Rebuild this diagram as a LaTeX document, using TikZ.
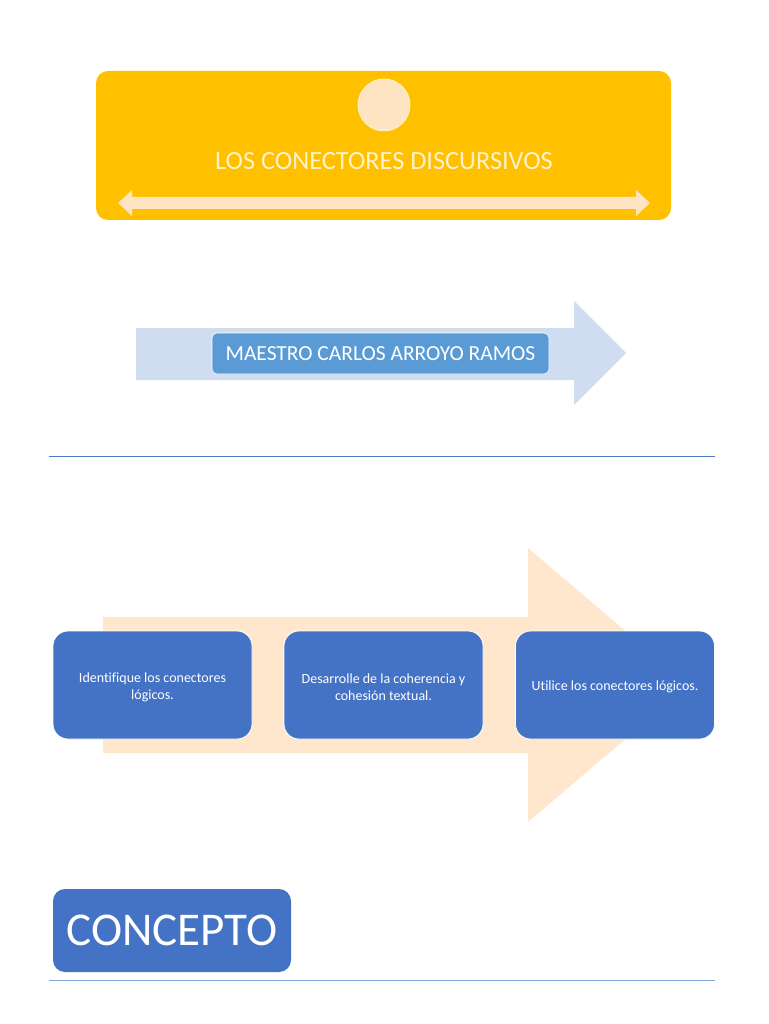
\documentclass[tikz,border=0pt]{standalone}
\usepackage{fontspec}
\setmainfont{Carlito}[Ligatures={NoCommon}]
\begin{document}
\begin{tikzpicture}[x=1pt,y=-1pt,
  topbox/.style={fill=gold, draw=none, rounded corners=12pt, minimum width=575pt, minimum height=149pt},
  bluebox/.style={fill=boxblue, draw=white, line width=0.8pt, rounded corners=15pt, minimum width=199pt, minimum height=108pt, text=white, align=center, font=\fontsize{14}{17}\selectfont, inner sep=4pt},
  namebox/.style={fill=nameblue, draw=white, line width=0.6pt, rounded corners=5pt, minimum width=337pt, minimum height=41pt, text=white, font=\fontsize{21.5}{25}\selectfont},
  conbox/.style={fill=boxblue, draw=none, rounded corners=12pt, minimum width=238pt, minimum height=83pt, text=white, font=\fontsize{47}{56}\selectfont},
  rule/.style={draw=ruleblue, line width=0.9pt}
]
\definecolor{gold}{HTML}{FFC000}
\definecolor{peach}{HTML}{FFE4C4}
\definecolor{cream}{HTML}{FFF2CC}
\definecolor{boxblue}{HTML}{4472C4}
\definecolor{nameblue}{HTML}{5B9BD5}
\definecolor{lightblue}{HTML}{D0DCEF}
\definecolor{bigpeach}{HTML}{FFE7CE}
\definecolor{ruleblue}{HTML}{4F7CC8}
\definecolor{ruleblue2}{HTML}{7FA3DA}
\useasboundingbox (0,0) rectangle (768,1024);
\fill[white] (0,0) rectangle (768,1024);

% Top title block
\node[topbox] (top) at (383.5,145.5) {};
\node[circle, fill=peach, draw=cream, line width=0.8pt, minimum size=52pt, inner sep=0pt] (dot) at (384,105) {};
\node[text=cream, font=\fontsize{26.3}{31}\selectfont] (title) at (384,161) {LOS CONECTORES DISCURSIVOS};
\fill[peach] (118,203) -- (132,190) -- (132,197) -- (636,197) -- (636,190) -- (650,203)
  -- (636,216) -- (636,209) -- (132,209) -- (132,216) -- cycle;

% Name arrow
\fill[lightblue] (136,328) -- (574,328) -- (574,301) -- (626,353) -- (574,405) -- (574,380) -- (136,380) -- cycle;
\node[namebox] (name) at (380.5,353.5) {MAESTRO CARLOS ARROYO RAMOS};

% Rule 1
\coordinate (r1a) at (49,456);
\coordinate (r1b) at (715,456);
\draw[rule] (r1a) -- (r1b);

% Process arrow
\fill[bigpeach] (103,617) -- (528,617) -- (528,548) -- (689,685) -- (528,822) -- (528,753) -- (103,753) -- cycle;
\node[bluebox] (b1) at (152.5,685) {};
\node[bluebox] (b2) at (383.5,685) {};
\node[bluebox] (b3) at (615,685) {};
\node[text=white, align=center, font=\fontsize{14}{17}\selectfont] (t1) at (152.5,687) {Identifique los conectores\\lógicos.};
\node[text=white, align=center, font=\fontsize{14}{17}\selectfont] (t2) at (383.5,687) {Desarrolle de la coherencia y\\cohesión textual.};
\node[text=white, align=center, font=\fontsize{14}{17}\selectfont] (t3) at (615,687) {Utilice los conectores lógicos.};

% Concepto
\node[conbox] (con) at (172,930.5) {CONCEPTO};

% Rule 2
\coordinate (r2a) at (49,980);
\coordinate (r2b) at (715,980);
\draw[rule, draw=ruleblue2] (r2a) -- (r2b);
\end{tikzpicture}
\end{document}
